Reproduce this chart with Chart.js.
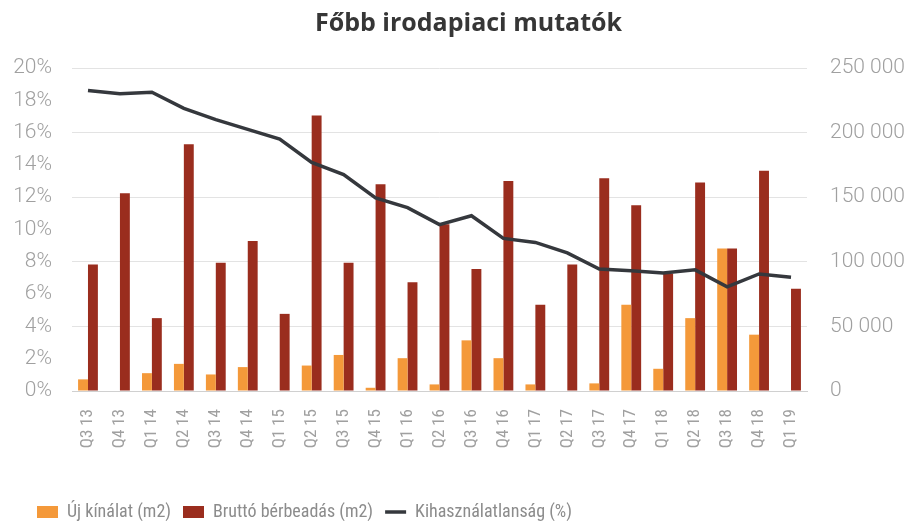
<!DOCTYPE html>
<html>
<head>
<meta charset="utf-8">
<script src="https://cdn.jsdelivr.net/npm/chart.js@4.4.1/dist/chart.umd.min.js"></script>
<style>
  html, body { margin: 0; padding: 0; background: #ffffff; }
  #wrap { width: 913px; height: 521px; }
</style>
</head>
<body>
<div id="wrap"><canvas id="chart" width="913" height="521"></canvas></div>
<script>
// adatok
const negyedevek = ['Q3 13', 'Q4 13', 'Q1 14', 'Q2 14', 'Q3 14', 'Q4 14', 'Q1 15', 'Q2 15',
  'Q3 15', 'Q4 15', 'Q1 16', 'Q2 16', 'Q3 16', 'Q4 16', 'Q1 17', 'Q2 17', 'Q3 17', 'Q4 17',
  'Q1 18', 'Q2 18', 'Q3 18', 'Q4 18', 'Q1 19'];
const ujKinalat = [9000, 0, 13800, 21000, 12800, 18500, 0, 19700,
  27900, 2500, 25400, 5100, 39200, 25400, 5100, 0, 5900, 66700,
  17200, 56400, 110200, 43600, 0];
const bruttoBerbeadas = [98000, 153000, 56400, 191000, 99200, 116100, 59700, 213300,
  99200, 160000, 84100, 129000, 94400, 162500, 66700, 98000, 164600, 143800,
  91000, 161300, 110200, 170500, 79200];
const kihasznalatlansag = [18.6, 18.4, 18.5, 17.5, 16.8, 16.2, 15.6, 14.15,
  13.4, 11.95, 11.35, 10.3, 10.85, 9.45, 9.2, 8.55, 7.55, 7.45,
  7.3, 7.5, 6.45, 7.25, 7.05];

const balTickek = [0, 2, 4, 6, 8, 10, 12, 14, 16, 18, 20];
const jobbTickek = [0, 50000, 100000, 150000, 200000, 250000];

const szurke = '#a0a0a0';

// keskeny betűtípus keresése (ha nincs, Roboto kisebb méretben)
function vanFont(nev) {
  const c = document.createElement('canvas').getContext('2d');
  const minta = 'Új kínálat Bruttó 0123456789';
  c.font = '20px monospace';
  const a = c.measureText(minta).width;
  c.font = "20px '" + nev + "', monospace";
  return c.measureText(minta).width !== a;
}
let keskeny = null;
['Liberation Sans Narrow', 'Roboto Condensed', 'Open Sans Condensed', 'DejaVu Sans Condensed'].forEach(n => {
  if (!keskeny && vanFont(n)) keskeny = n;
});
const legendFont = keskeny ? { family: "'" + keskeny + "'", size: 18 } : { family: 'Roboto', size: 15, weight: '300' };
const xFont = keskeny ? { family: "'" + keskeny + "'", size: 17 } : { family: 'Roboto', size: 16, weight: '300' };
const tickFont = { family: 'Roboto', size: 21, weight: '300' };

function ezres(v) {
  return String(v).replace(/\B(?=(\d{3})+(?!\d))/g, ' ');
}

// jelmagyarázat és cím eltolása a referencia szerint
const eltolas = {
  id: 'eltolas',
  afterLayout(chart) {
    const lg = chart.legend;
    lg.left += 25; lg.right += 25;
    lg.top += 10; lg.bottom += 10;
    const t = chart.titleBlock;
    t.left += 12; t.right += 12;
  }
};

const ctx = document.getElementById('chart').getContext('2d');
const chart = new Chart(ctx, {
  type: 'bar',
  data: {
    labels: negyedevek,
    datasets: [{
      label: 'Új kínálat (m2)',
      data: ujKinalat,
      backgroundColor: '#f4993a',
      yAxisID: 'y1',
      order: 1,
      categoryPercentage: 0.62,
      barPercentage: 1.0
    }, {
      label: 'Bruttó bérbeadás (m2)',
      data: bruttoBerbeadas,
      backgroundColor: '#9a2d1e',
      yAxisID: 'y1',
      order: 2,
      categoryPercentage: 0.62,
      barPercentage: 1.0
    }, {
      type: 'line',
      label: 'Kihasználatlanság (%)',
      data: kihasznalatlansag,
      borderColor: '#35383d',
      backgroundColor: '#35383d',
      borderWidth: 3.5,
      pointRadius: 0,
      tension: 0,
      yAxisID: 'y',
      order: 0
    }]
  },
  plugins: [eltolas],
  options: {
    responsive: false,
    animation: false,
    layout: { padding: 0 },
    plugins: {
      title: {
        display: true,
        text: 'Főbb irodapiaci mutatók',
        color: '#363636',
        font: { family: 'Open Sans', size: 25, weight: 'bold' },
        padding: { top: 9, bottom: 29 }
      },
      legend: {
        position: 'bottom',
        align: 'start',
        labels: {
          color: '#8c8c8c',
          font: legendFont,
          usePointStyle: true,
          pointStyleWidth: 21,
          boxHeight: 12,
          padding: 12,
          sort: (a, b) => a.datasetIndex - b.datasetIndex,
          generateLabels: function(chart) {
            const items = Chart.defaults.plugins.legend.labels.generateLabels(chart);
            items.forEach(it => {
              it.pointStyle = it.datasetIndex === 2 ? 'line' : 'rect';
              it.lineWidth = it.datasetIndex === 2 ? 3.5 : 0;
            });
            return items;
          }
        }
      },
      tooltip: { enabled: false }
    },
    scales: {
      x: {
        grid: { display: false, drawTicks: false },
        border: { color: '#d0d0d0', width: 1 },
        ticks: {
          color: szurke,
          font: xFont,
          minRotation: 90,
          maxRotation: 90,
          autoSkip: false,
          padding: 18
        },
        afterFit: (axis) => { axis.height = 90; }
      },
      y: {
        position: 'left',
        min: 0,
        max: 20,
        afterBuildTicks: (axis) => { axis.ticks = balTickek.map(v => ({ value: v })); },
        grid: { display: false, drawTicks: false },
        border: { display: false },
        ticks: {
          color: szurke,
          font: tickFont,
          padding: 20,
          callback: (v) => v + '%'
        },
        afterFit: (axis) => { axis.width = 72; }
      },
      y1: {
        position: 'right',
        min: 0,
        max: 250000,
        afterBuildTicks: (axis) => { axis.ticks = jobbTickek.map(v => ({ value: v })); },
        grid: { color: '#e3e3e3', drawTicks: false },
        border: { display: false },
        ticks: {
          color: szurke,
          font: tickFont,
          padding: 23,
          callback: (v) => ezres(v)
        },
        afterFit: (axis) => { axis.width = 106; }
      }
    }
  }
});
</script>
</body>
</html>
